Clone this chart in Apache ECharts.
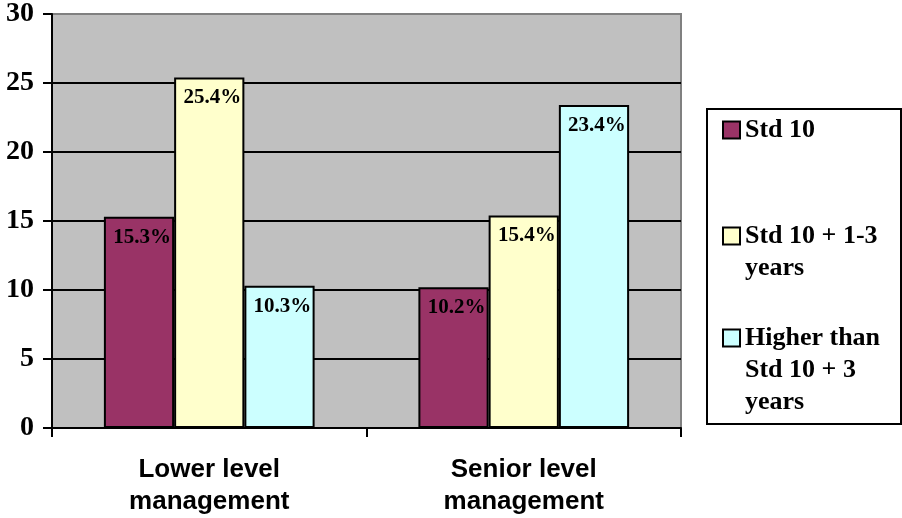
<!DOCTYPE html>
<html>
<head>
<meta charset="utf-8">
<script src="https://cdn.jsdelivr.net/npm/echarts@6/dist/echarts.min.js"></script>
<style>html,body{margin:0;padding:0;background:#fff}#c{width:902px;height:518px}</style>
</head>
<body>
<div id="c"></div>
<script>
var categories = ['Lower level\nmanagement', 'Senior level\nmanagement'];
var seriesNames = ['Std 10', 'Std 10 + 1-3 years', 'Higher than Std 10 + 3 years'];
var legendLabels = ['Std 10', 'Std 10 + 1-3\nyears', 'Higher than\nStd 10 + 3\nyears'];
var std10 = [15.3, 10.2];
var std10plus13 = [25.4, 15.4];
var higherThan = [10.3, 23.4];
var yTicks = [0, 5, 10, 15, 20, 25, 30];
var colors = ['#993366', '#FFFFCC', '#CCFFFF'];

var values = [std10, std10plus13, higherThan];
var serif = '"Liberation Serif","Times New Roman",serif';
var chart = echarts.init(document.getElementById('c'), null, {renderer: 'canvas'});

var series = values.map(function (v, i) {
  return {
    name: seriesNames[i],
    type: 'bar',
    data: v,
    barGap: '0%',
    barCategoryGap: '33%',
    itemStyle: {color: colors[i], borderColor: '#000', borderWidth: 2},
    label: {
      show: true, position: 'insideTop', distance: 10, offset: [3, 0],
      formatter: '{c}%', color: '#000',
      fontFamily: serif, fontWeight: 'bold', fontSize: 21
    }
  };
});

// icon sits on the first line of each legend label
var legendTops = [114, 188, 258];
var legends = seriesNames.map(function (n, i) {
  var lines = legendLabels[i].split('\n');
  var pre = [];
  for (var k = 1; k < lines.length; k++) pre.push(' ');
  var text = pre.concat(lines).join('\n');
  return {
    data: [n], left: 722, top: legendTops[i], orient: 'vertical', padding: 0,
    itemWidth: 17, itemHeight: 17, itemGap: 6, icon: 'rect',
    selectedMode: false,
    itemStyle: {borderColor: '#000', borderWidth: 2},
    formatter: function () { return text; },
    textStyle: {
      fontFamily: serif, fontWeight: 'bold', fontSize: 26, color: '#000',
      lineHeight: 32
    }
  };
});

chart.setOption({
  animation: false,
  grid: {left: 52, right: 221, top: 12, bottom: 90, show: true,
         backgroundColor: '#C0C0C0', borderColor: '#808080', borderWidth: 2},
  xAxis: {
    type: 'category', data: categories,
    axisLine: {lineStyle: {color: '#000', width: 2}},
    axisTick: {show: true, length: 9, alignWithLabel: false, lineStyle: {color: '#000', width: 2}},
    axisLabel: {margin: 26, color: '#000', fontFamily: '"Liberation Sans",Arial,sans-serif',
                fontWeight: 'bold', fontSize: 26, lineHeight: 32}
  },
  yAxis: {
    type: 'value', min: yTicks[0], max: yTicks[yTicks.length - 1], interval: 5,
    axisLine: {show: true, lineStyle: {color: '#000', width: 2}},
    axisTick: {show: true, length: 9, lineStyle: {color: '#000', width: 2}},
    axisLabel: {margin: 18, color: '#000', fontFamily: serif, fontWeight: 'bold', fontSize: 28},
    splitLine: {show: true, showMaxLine: false, lineStyle: {color: '#000', width: 2}}
  },
  legend: legends,
  graphic: [{
    type: 'rect', left: 706, top: 108, z: 0,
    shape: {width: 194, height: 315},
    style: {fill: '#fff', stroke: '#000', lineWidth: 2}
  }],
  series: series
});
</script>
</body>
</html>
